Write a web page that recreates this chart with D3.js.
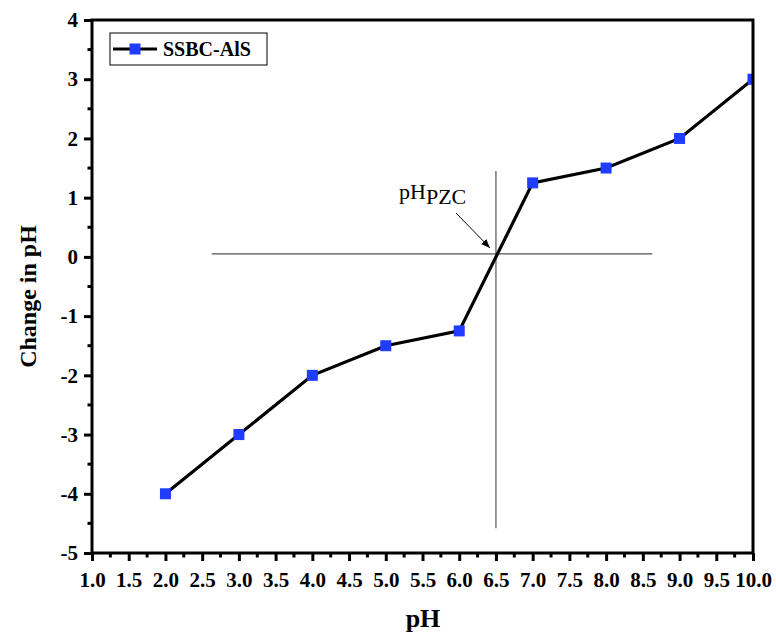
<!DOCTYPE html>
<html>
<head>
<meta charset="utf-8">
<script src="https://cdn.jsdelivr.net/npm/d3@7/dist/d3.min.js"></script>
<style>
  html, body { margin: 0; padding: 0; background: #fff; }
  svg text { font-family: "Liberation Serif", "Times New Roman", serif; }
</style>
</head>
<body>
<div id="chart"></div>
<script>
// Measured pH change vs. initial pH
const seriesName = "SSBC-AlS";
const initialPH = [2, 3, 4, 5, 6, 7, 8, 9, 10];
const changeInPH = [-4, -3, -2, -1.5, -1.25, 1.25, 1.5, 2, 3];

// Axis ticks
const xTicks = [1, 1.5, 2, 2.5, 3, 3.5, 4, 4.5, 5, 5.5, 6, 6.5, 7, 7.5, 8, 8.5, 9, 9.5, 10];
const yTicks = [-5, -4, -3, -2, -1, 0, 1, 2, 3, 4];

// Point-of-zero-charge guide lines
const pzc = 6.5;
const guideH = { y: 0.05, x0: 2.63, x1: 8.63 };
const guideV = { x: 6.5, y0: -4.58, y1: 1.45 };

const W = 776, H = 635;
const margin = { left: 92, right: 23, top: 20, bottom: 82 };
const iw = W - margin.left - margin.right;
const ih = H - margin.top - margin.bottom;

const svg = d3.select("#chart").append("svg")
  .attr("width", W).attr("height", H);

const x = d3.scaleLinear().domain([1, 10]).range([margin.left, margin.left + iw]);
const y = d3.scaleLinear().domain([-5, 4]).range([margin.top + ih, margin.top]);

svg.append("defs").append("clipPath").attr("id", "plotClip")
  .append("rect").attr("x", margin.left).attr("y", margin.top)
  .attr("width", iw).attr("height", ih);

// arrow head marker
svg.select("defs").append("marker")
  .attr("id", "arrow").attr("viewBox", "0 0 10 10")
  .attr("refX", 10).attr("refY", 5)
  .attr("markerWidth", 9).attr("markerHeight", 9)
  .attr("markerUnits", "userSpaceOnUse")
  .attr("orient", "auto")
  .append("path").attr("d", "M0,1 L10,5 L0,9 z").attr("fill", "#000");

// Guide lines
svg.append("line")
  .attr("x1", x(guideH.x0)).attr("x2", x(guideH.x1))
  .attr("y1", y(guideH.y)).attr("y2", y(guideH.y))
  .attr("stroke", "#555").attr("stroke-width", 1.2);
svg.append("line")
  .attr("x1", x(guideV.x)).attr("x2", x(guideV.x))
  .attr("y1", y(guideV.y0)).attr("y2", y(guideV.y1))
  .attr("stroke", "#555").attr("stroke-width", 1.2);

// Series
const data = initialPH.map((v, i) => ({ x: v, y: changeInPH[i] }));
const plot = svg.append("g").attr("clip-path", "url(#plotClip)");
plot.append("path").datum(data)
  .attr("fill", "none").attr("stroke", "#000").attr("stroke-width", 3.2)
  .attr("d", d3.line().x(d => x(d.x)).y(d => y(d.y)));
const ms = 11;
plot.selectAll("rect.pt").data(data).enter().append("rect")
  .attr("class", "pt")
  .attr("x", d => x(d.x) - ms / 2).attr("y", d => y(d.y) - ms / 2)
  .attr("width", ms).attr("height", ms)
  .attr("fill", "#1f3cff");

// Axes: bottom and left with outward ticks
const xAxis = d3.axisBottom(x).tickValues(xTicks).tickFormat(d3.format(".1f"))
  .tickSize(8).tickPadding(11);
const gx = svg.append("g").attr("transform", `translate(0,${margin.top + ih})`).call(xAxis);
const yAxis = d3.axisLeft(y).tickValues(yTicks).tickFormat(d => d)
  .tickSize(8).tickPadding(6);
const gy = svg.append("g").attr("transform", `translate(${margin.left},0)`).call(yAxis);

[gx, gy].forEach(g => {
  g.select(".domain").remove();
  g.selectAll(".tick line").attr("stroke", "#000").attr("stroke-width", 3);
  g.selectAll(".tick text").attr("fill", "#000")
    .style("font-size", "21px").style("font-weight", "bold");
});

// Minor ticks
const xMinor = d3.range(0, xTicks.length - 1).map(i => (xTicks[i] + xTicks[i + 1]) / 2);
svg.append("g").selectAll("line").data(xMinor).enter().append("line")
  .attr("x1", d => x(d)).attr("x2", d => x(d))
  .attr("y1", margin.top + ih).attr("y2", margin.top + ih + 4.5)
  .attr("stroke", "#000").attr("stroke-width", 3);
const yMinor = d3.range(0, yTicks.length - 1).map(i => (yTicks[i] + yTicks[i + 1]) / 2);
svg.append("g").selectAll("line").data(yMinor).enter().append("line")
  .attr("x1", margin.left - 4.5).attr("x2", margin.left)
  .attr("y1", d => y(d)).attr("y2", d => y(d))
  .attr("stroke", "#000").attr("stroke-width", 3);

// Frame
svg.append("rect")
  .attr("x", margin.left).attr("y", margin.top)
  .attr("width", iw).attr("height", ih)
  .attr("fill", "none").attr("stroke", "#000").attr("stroke-width", 3);

// Axis titles
svg.append("text")
  .attr("x", 423).attr("y", 627)
  .attr("text-anchor", "middle")
  .style("font-size", "26px").style("font-weight", "bold")
  .text("pH");
svg.append("text")
  .attr("transform", `translate(36,${margin.top + ih / 2 + 10}) rotate(-90)`)
  .attr("text-anchor", "middle")
  .style("font-size", "24px").style("font-weight", "bold")
  .text("Change in pH");

// pH_PZC annotation
const ann = svg.append("text").attr("x", 399).attr("y", 199)
  .style("font-size", "22px");
ann.append("tspan").text("pH");
ann.append("tspan").attr("dy", 5).text("PZC");
svg.append("line")
  .attr("x1", 456).attr("y1", 213)
  .attr("x2", x(pzc) - 6).attr("y2", y(0) - 9)
  .attr("stroke", "#000").attr("stroke-width", 1)
  .attr("marker-end", "url(#arrow)");

// Legend
const lg = svg.append("g");
lg.append("rect").attr("x", 110).attr("y", 33).attr("width", 157).attr("height", 32)
  .attr("fill", "#fff").attr("stroke", "#000").attr("stroke-width", 1);
lg.append("line").attr("x1", 113).attr("x2", 157).attr("y1", 49).attr("y2", 49)
  .attr("stroke", "#000").attr("stroke-width", 3);
lg.append("rect").attr("x", 135 - ms / 2).attr("y", 49 - ms / 2)
  .attr("width", ms).attr("height", ms).attr("fill", "#1f3cff");
lg.append("text").attr("x", 163).attr("y", 56)
  .style("font-size", "20px").style("font-weight", "bold")
  .text(seriesName);
</script>
</body>
</html>
